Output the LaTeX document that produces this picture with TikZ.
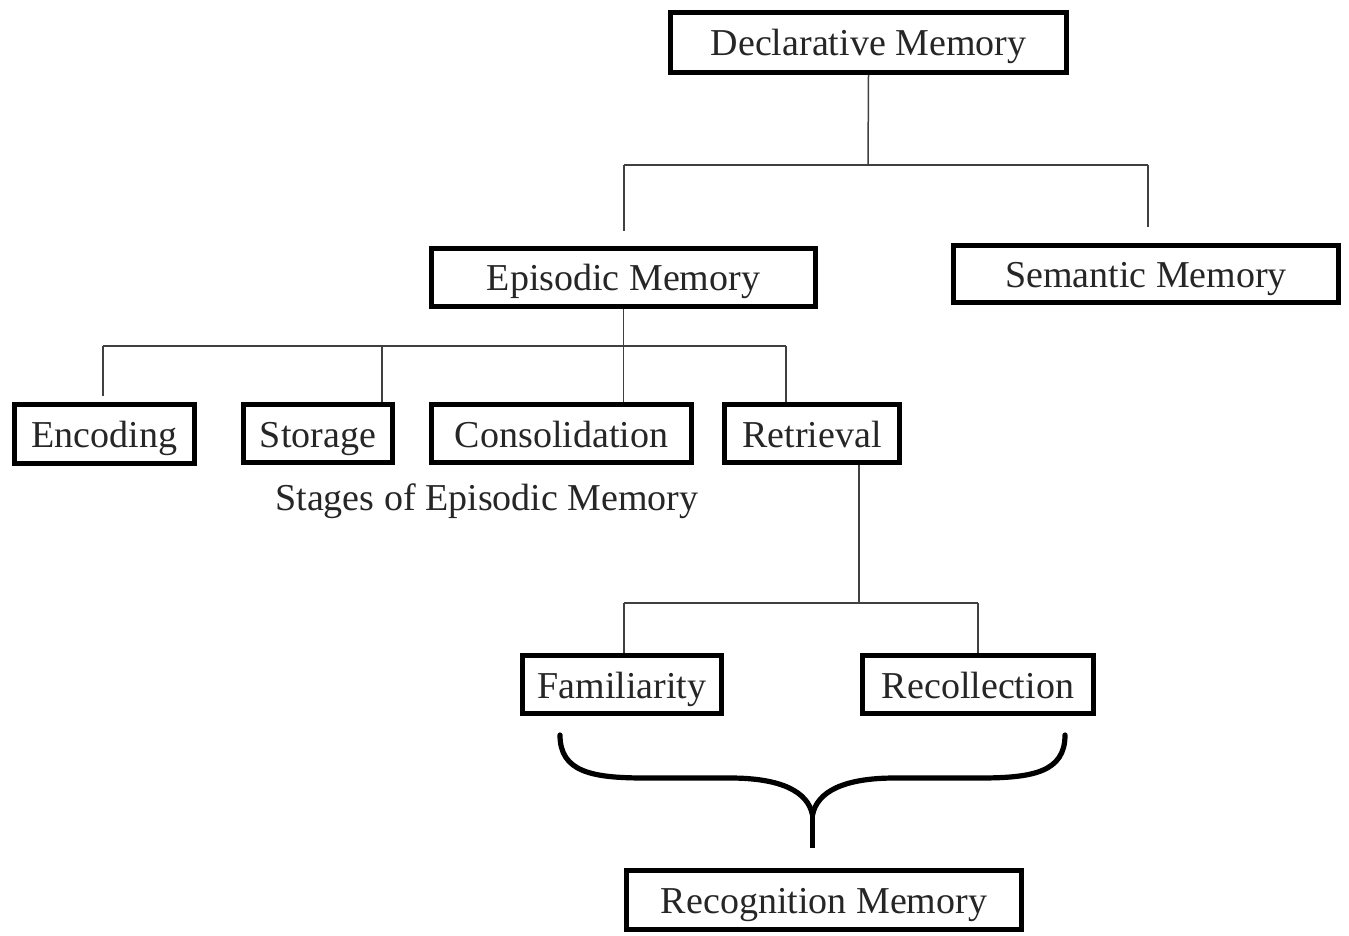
\documentclass[tikz,border=0pt]{standalone}
\usepackage{fontspec}
\setmainfont{Liberation Serif}
\definecolor{txt}{HTML}{262626}
\definecolor{ln}{HTML}{404040}
\begin{document}
\begin{tikzpicture}[x=0.5pt,y=-0.5pt,
  box/.style={draw=black, line width=2.7pt, fill=white, inner sep=0pt,
    font=\fontsize{19}{21}\selectfont, text=txt, text height=14pt, text depth=0.5pt},
  conn/.style={draw=ln, line width=0.75pt},
  brace/.style={draw=black, line width=2.6pt, line cap=round}]
\useasboundingbox (0,0) rectangle (1349,936);
\fill[white] (0,0) rectangle (1349,936);
% nodes
\node[box, minimum width=198pt, minimum height=30pt] (decl) at (868.5,42.5) {Declarative Memory};
\node[box, minimum width=192pt, minimum height=29pt] (epi) at (623.5,277.5) {Episodic Memory};
\node[box, minimum width=192.5pt, minimum height=28.5pt] (sem) at (1146,274) {Semantic Memory};
\node[box, minimum width=90pt, minimum height=29.5pt] (enc) at (104.5,434) {Encoding};
\node[box, minimum width=74.5pt, minimum height=29pt] (sto) at (318,433.5) {Storage};
\node[box, minimum width=130pt, minimum height=29pt] (con) at (561.5,433.5) {Consolidation};
\node[box, minimum width=87.5pt, minimum height=29pt] (ret) at (812,433.5) {Retrieval};
\node[box, minimum width=99.5pt, minimum height=29pt] (fam) at (622,684.5) {Familiarity};
\node[box, minimum width=115.5pt, minimum height=29pt] (rec) at (978,684.5) {Recollection};
\node[box, minimum width=197.5pt, minimum height=29.5pt] (rcg) at (824,900) {Recognition Memory};
\node[font=\fontsize{19}{21}\selectfont, text=txt, inner sep=0pt, text height=14pt, text depth=0.5pt] (stages) at (487,497) {Stages of Episodic Memory};
% declarative connectors
\coordinate (d1) at (868,165);
\coordinate (dl) at (624,165);
\coordinate (dr) at (1148,165);
\coordinate (dle) at (624,231);
\coordinate (dre) at (1148,227);
\draw[conn] (decl.south) -- (d1);
\draw[conn] (dl) -- (dr);
\draw[conn] (dl) -- (dle);
\draw[conn] (dr) -- (dre);
% episodic connectors
\coordinate (e1) at (103,346);
\coordinate (e1b) at (103,396);
\coordinate (e2) at (382,346);
\coordinate (e4) at (786,346);
\draw[conn] (epi.south) -- (epi.south |- con.north);
\draw[conn] (e1) -- (e4);
\draw[conn] (e1) -- (e1b);
\draw[conn] (e2) -- (e2 |- sto.north);
\draw[conn] (e4) -- (e4 |- ret.north);
% retrieval connectors
\coordinate (r1) at (859,603);
\coordinate (rl) at (624,603);
\coordinate (rr) at (978,603);
\draw[conn] (r1 |- ret.south) -- (r1);
\draw[conn] (rl) -- (rr);
\draw[conn] (rl) -- (rl |- fam.north);
\draw[conn] (rr) -- (rr |- rec.north);
% brace
\coordinate (bl) at (560,735);
\coordinate (br) at (1065,735);
\coordinate (bc) at (812.5,815);
\coordinate (bt) at (812.5,848);
\draw[brace] (bl) .. controls (560,772) and (592,778) .. (645,778) -- (730,778)
  .. controls (782,778) and (808,792) .. (bc);
\draw[brace] (br) .. controls (1065,772) and (1033,778) .. (980,778) -- (895,778)
  .. controls (843,778) and (817,792) .. (bc);
\draw[brace, line cap=butt] (bc) -- (bt);
\end{tikzpicture}
\end{document}
